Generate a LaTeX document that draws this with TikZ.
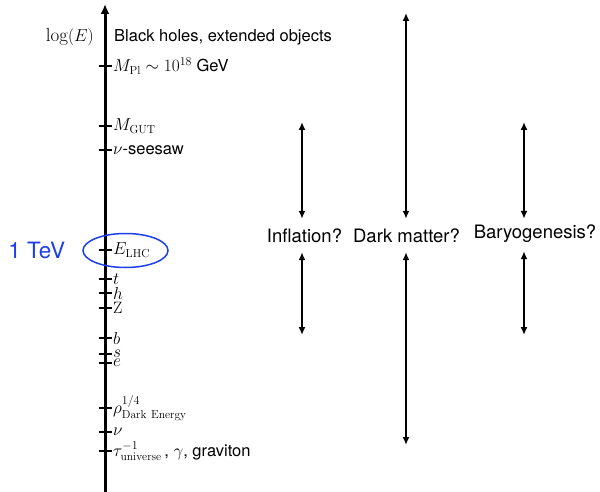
\documentclass[tikz,border=0pt]{standalone}
\usepackage{amsmath}
\usepackage{fontspec}
\setsansfont{TeX Gyre Heros}
\usetikzlibrary{arrows.meta,positioning,shapes.geometric}
\definecolor{TeVblue}{RGB}{30,62,235}
\tikzset{
  axis/.style={-{Latex[length=10pt,width=9pt]},line width=3pt},
  tickmark/.style={line width=2.4pt},
  lbl/.style={anchor=west,inner sep=0pt,font=\sffamily\fontsize{16.5}{19}\selectfont},
  ring/.style={ellipse,draw=TeVblue,line width=1.5pt,minimum width=85pt,
               minimum height=34pt,inner sep=0pt},
  tevlbl/.style={text=TeVblue,font=\sffamily\fontsize{22.5}{25}\selectfont,inner sep=1pt},
  quest/.style={anchor=base,font=\sffamily\fontsize{18.5}{21}\selectfont,
                text height=13pt,text depth=0pt,inner ysep=10pt},
  rangearrow/.style={{Latex[length=8pt,width=7pt]}-{Latex[length=8pt,width=7pt]},
                     line width=2.4pt},
}
\begin{document}
\begin{tikzpicture}[x=1pt,y=-1pt]
  \useasboundingbox (0,0) rectangle (600,492);
  % energy axis
  \coordinate (base) at (105,492);
  \coordinate (apex) at (105,4);
  \draw[axis] (base) -- (apex);
  \node[lbl] (bh) at (114,37) {Black holes, extended objects};
  \node[anchor=east,inner sep=1pt,font=\fontsize{19}{22}\selectfont] (loge) at (95,37) {$\log(E)$};
  % scales on the axis
  \foreach \y/\nm/\txt in {66/pl/{$M_{\mathrm{Pl}}\sim10^{18}$ GeV},
      126/gut/{$M_{\mathrm{GUT}}$}, 150/seesaw/{$\nu$-seesaw},
      250/lhc/{$E_{\mathrm{LHC}}$}, 279/top/{$t$}, 293/higgs/{$h$},
      308/zbos/{$\mathrm{Z}$}, 338/bot/{$b$}, 354/str/{$s$}, 363/ele/{$e$},
      408/rho/{$\rho^{1/4}_{\mathrm{Dark\ Energy}}$}, 432/nu/{$\nu$},
      451/tau/{$\tau^{-1}_{\mathrm{universe}}$\,, $\gamma$, graviton}}{
    \coordinate (at-\nm) at (105,\y);
    \draw[tickmark] ([xshift=-6.5pt]at-\nm) -- ([xshift=6.5pt]at-\nm);
    \node[lbl,right=8pt of at-\nm] (\nm) {\txt};
  }
  % 1 TeV marker
  \node[ring] (lhcring) at (125.5,250.5) {};
  \node[tevlbl,left=16pt of lhcring] (tev) {1 TeV};
  % open questions
  \node[quest] (infl) at (304.5,242) {Inflation?};
  \node[quest] (dm) at (406.5,242) {Dark matter?};
  \node[quest,text depth=7pt,inner ysep=6pt] (baryo) at (535,238) {Baryogenesis?};
  \coordinate (infl-hi) at (302,122);
  \coordinate (infl-lo) at (302,335);
  \coordinate (dm-hi) at (406,13);
  \coordinate (dm-lo) at (406,445);
  \coordinate (baryo-hi) at (524,122);
  \coordinate (baryo-lo) at (524,335);
  \draw[rangearrow] (infl-hi) -- (infl-hi |- infl.north);
  \draw[rangearrow] (infl-hi |- infl.south) -- (infl-lo);
  \draw[rangearrow] (dm-hi) -- (dm-hi |- dm.north);
  \draw[rangearrow] (dm-hi |- dm.south) -- (dm-lo);
  \draw[rangearrow] (baryo-hi) -- (baryo-hi |- baryo.north);
  \draw[rangearrow] (baryo-hi |- baryo.south) -- (baryo-lo);
\end{tikzpicture}
\end{document}
